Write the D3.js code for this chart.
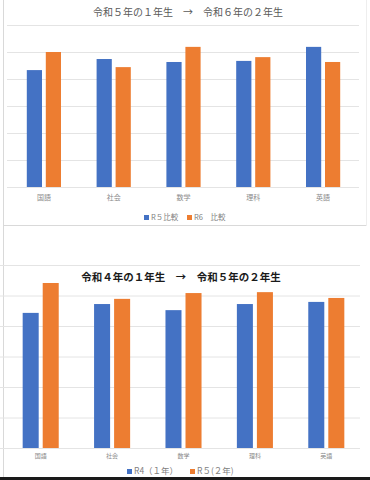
<!DOCTYPE html>
<html>
<head>
<meta charset="utf-8">
<script src="https://cdn.jsdelivr.net/npm/d3@7"></script>
<style>
  body { margin: 0; background: #fff; }
  svg { display: block; font-family: "Noto Sans CJK JP", "Noto Sans", sans-serif; }
</style>
</head>
<body>
<svg id="chart" width="370" height="480"></svg>
<script>
const subjects = ["国語", "社会", "数学", "理科", "英語"];
const gridTicks = [0, 10, 20, 30, 40, 50, 60];

// top chart: R5 1st year vs R6 2nd year
const r5Hikaku = [43.3, 47.4, 46.3, 46.7, 51.9];
const r6Hikaku = [50.0, 44.4, 51.9, 48.1, 46.3];

// bottom chart: R4 1st year vs R5 2nd year
const r4First = [44.3, 47.2, 45.2, 47.2, 47.9];
const r5Second = [54.1, 48.9, 50.8, 51.1, 49.2];

const blue = "#4472C4", orange = "#ED7D31";
const svg = d3.select("#chart");

// frame lines like the screenshot
svg.append("line").attr("x1", 3.5).attr("x2", 3.5).attr("y1", 0).attr("y2", 477)
  .attr("stroke", "#d9d9d9");
svg.append("line").attr("x1", 3).attr("x2", 367).attr("y1", 225.5).attr("y2", 225.5)
  .attr("stroke", "#d9d9d9");
svg.append("line").attr("x1", 366.5).attr("x2", 366.5).attr("y1", 0).attr("y2", 226)
  .attr("stroke", "#eeeeee");
svg.append("rect").attr("x", 0).attr("y", 477).attr("width", 370).attr("height", 3)
  .attr("fill", "#1a1a1a");

function drawChart(opt) {
  const g = svg.append("g");

  const x = d3.scaleBand().domain(subjects).range(opt.xRange)
    .paddingInner(opt.pad).paddingOuter(opt.pad / 2);
  const sub = d3.scaleBand().domain([0, 1]).range([0, x.bandwidth()]).paddingInner(0.2);
  const y = d3.scaleLinear().domain([0, 60]).range(opt.yRange);

  // gridlines
  g.append("g")
    .attr("transform", "translate(" + opt.gridX[1] + ",0)")
    .call(d3.axisLeft(y).tickValues(gridTicks).tickSize(opt.gridX[1] - opt.gridX[0]).tickFormat(""))
    .call(a => a.select(".domain").remove())
    .call(a => a.selectAll("line").attr("stroke", "#e4e4e4"));

  const series = [opt.a, opt.b];
  const colors = [blue, orange];
  series.forEach((vals, i) => {
    g.selectAll(".bar" + i)
      .data(vals)
      .enter()
      .append("rect")
      .attr("x", (d, j) => x(subjects[j]) + sub(i))
      .attr("y", d => y(d))
      .attr("width", sub.bandwidth())
      .attr("height", d => y(0) - y(d))
      .attr("fill", colors[i]);
  });

  // category labels
  g.append("g")
    .attr("transform", "translate(0," + y(0) + ")")
    .call(d3.axisBottom(x).tickSize(0).tickPadding(opt.labelPad))
    .call(a => a.select(".domain").remove())
    .call(a => a.selectAll("text")
      .attr("font-size", opt.labelSize)
      .attr("fill", "#8a8a8a")
      .style("font-family", "Noto Sans CJK JP"));

  // title
  g.append("text")
    .attr("x", opt.titleX).attr("y", opt.titleY)
    .attr("text-anchor", "middle")
    .attr("font-size", opt.titleSize)
    .attr("font-weight", opt.titleBold ? "bold" : "normal")
    .attr("fill", opt.titleColor)
    .text(opt.title);

  // legend
  opt.legend.forEach((lab, i) => {
    const lx = opt.legendX[i];
    g.append("rect").attr("x", lx).attr("y", opt.legendY - 5)
      .attr("width", 5).attr("height", 5).attr("fill", colors[i]);
    g.append("text").attr("x", lx + 7).attr("y", opt.legendY)
      .attr("font-size", opt.legendSize).attr("fill", "#7f7f7f")
      .text(lab);
  });
}

drawChart({
  a: r5Hikaku, b: r6Hikaku,
  xRange: [9, 358], pad: 0.51,
  yRange: [187, 25], gridX: [7, 359],
  labelPad: 8, labelSize: 7,
  title: "令和５年の１年生　→　令和６年の２年生",
  titleX: 188, titleY: 16, titleSize: 10, titleBold: false, titleColor: "#595959",
  legend: ["R５比較", "R6　比較"], legendX: [144, 187], legendY: 220, legendSize: 7.5
});

drawChart({
  a: r4First, b: r5Second,
  xRange: [5, 362], pad: 0.495,
  yRange: [448, 265], gridX: [0, 360],
  labelPad: 6, labelSize: 6,
  title: "令和４年の１年生　→　令和５年の２年生",
  titleX: 181, titleY: 281, titleSize: 10.5, titleBold: true, titleColor: "#1a1a1a",
  legend: ["R4（１年）", "R５(２年)"], legendX: [127, 190], legendY: 474, legendSize: 8.5
});
</script>
</body>
</html>
